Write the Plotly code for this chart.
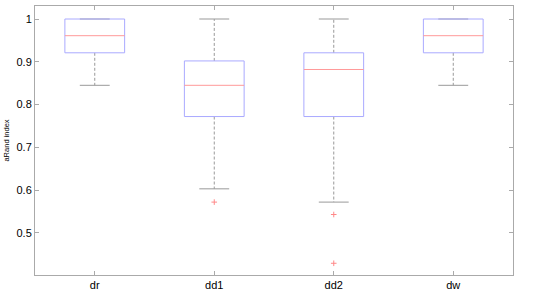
import plotly.graph_objects as go

categories = ["dr", "dd1", "dd2", "dw"]
q1 = [0.921, 0.772, 0.772, 0.921]
median = [0.961, 0.845, 0.882, 0.961]
q3 = [1.0, 0.902, 0.921, 1.0]
lower_whisker = [0.845, 0.603, 0.572, 0.845]
upper_whisker = [1.0, 1.0, 1.0, 1.0]
outliers = [[], [0.572], [0.543, 0.429], []]

BOX_W = 0.5
CAP_W = 0.25
box_col = "#aaaaff"
med_col = "#ff9999"
wh_col = "#999999"
out_col = "#ff8888"

fig = go.Figure()
for i, name in enumerate(categories):
    x = i + 1
    l, r = x - BOX_W / 2, x + BOX_W / 2
    cl, cr = x - CAP_W / 2, x + CAP_W / 2
    # whiskers (dashed)
    fig.add_trace(go.Scatter(x=[x, x, None, x, x], y=[q3[i], upper_whisker[i], None, q1[i], lower_whisker[i]],
                             mode="lines", line=dict(color=wh_col, width=1, dash="3px,2px"),
                             showlegend=False, hoverinfo="skip"))
    # caps
    fig.add_trace(go.Scatter(x=[cl, cr, None, cl, cr],
                             y=[upper_whisker[i], upper_whisker[i], None, lower_whisker[i], lower_whisker[i]],
                             mode="lines", line=dict(color=wh_col, width=1),
                             showlegend=False, hoverinfo="skip"))
    # box
    fig.add_trace(go.Scatter(x=[l, r, r, l, l], y=[q1[i], q1[i], q3[i], q3[i], q1[i]],
                             mode="lines", line=dict(color=box_col, width=1),
                             showlegend=False, hoverinfo="skip"))
    # median
    fig.add_trace(go.Scatter(x=[l, r], y=[median[i], median[i]],
                             mode="lines", line=dict(color=med_col, width=1),
                             showlegend=False, hoverinfo="skip"))
    if outliers[i]:
        fig.add_trace(go.Scatter(x=[x] * len(outliers[i]), y=outliers[i], mode="markers",
                                 marker=dict(symbol="cross-thin", size=4, line=dict(color=out_col, width=1)),
                                 showlegend=False, hoverinfo="skip"))

axis_common = dict(showgrid=False, zeroline=False, showline=True, linecolor="#aaaaaa", linewidth=1,
                   mirror="ticks", ticks="inside", ticklen=4, tickcolor="#aaaaaa", automargin=False,
                   tickfont=dict(family="Liberation Sans, Arial", size=11, color="#000000"))

fig.update_layout(
    width=550, height=292,
    margin=dict(l=35, r=37, t=6, b=17),
    plot_bgcolor="white", paper_bgcolor="white",
    hovermode=False,
    xaxis=dict(range=[0.5, 4.5], tickvals=[1, 2, 3, 4], ticktext=categories, **axis_common),
    yaxis=dict(range=[0.4016, 1.0304], tickvals=[0.5, 0.6, 0.7, 0.8, 0.9, 1.0],
               ticktext=["0.5", "0.6", "0.7", "0.8", "0.9", "1"],
               title=dict(text="aRand index", font=dict(family="Liberation Sans, Arial", size=7.5, color="#000"), standoff=5),
               **axis_common),
)

fig.write_html("out.html", config={"displayModeBar": False, "staticPlot": True},
               post_script="document.body.style.margin='0';")
